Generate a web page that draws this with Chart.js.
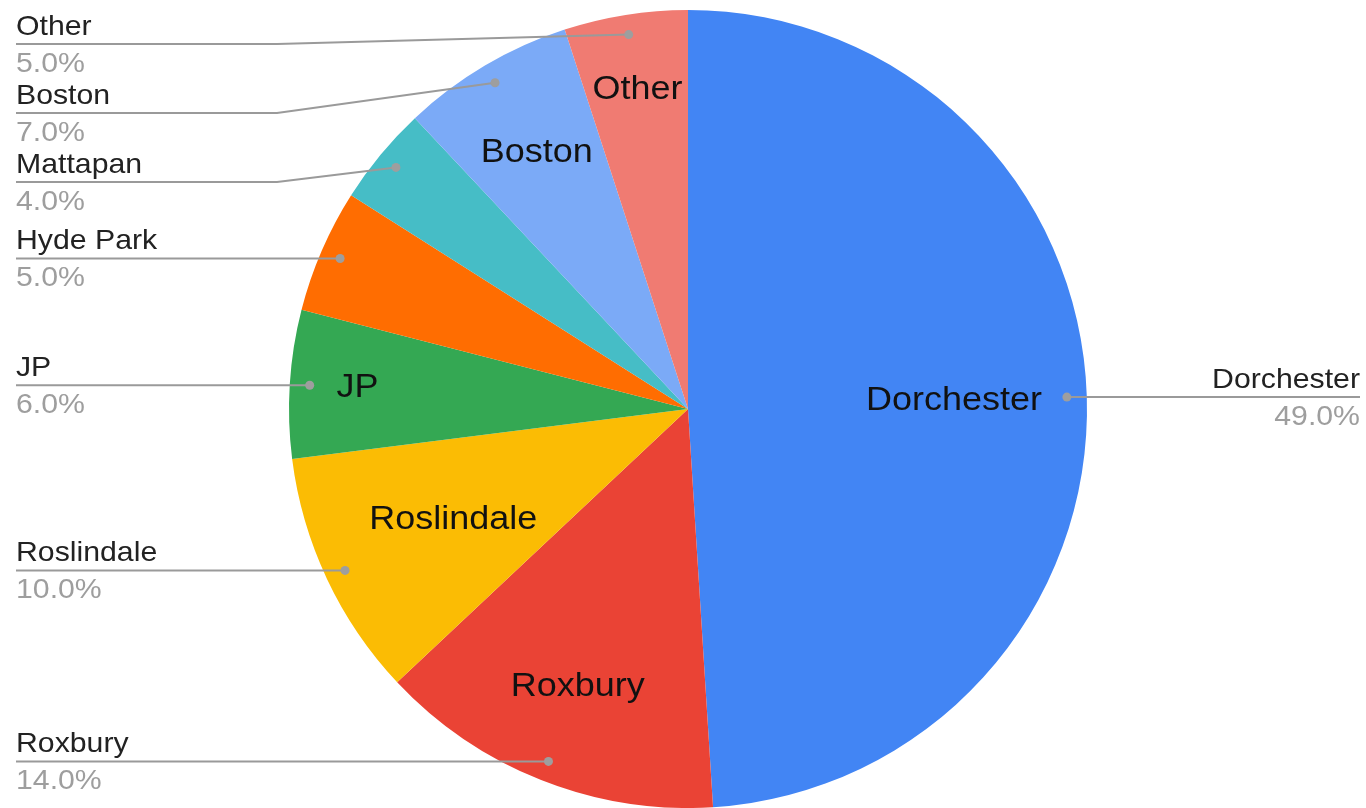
<!DOCTYPE html>
<html lang="en">
<head>
<meta charset="UTF-8" />
<title>Neighborhoods</title>
<script src="https://cdn.jsdelivr.net/npm/chart.js"></script>
<style>
  body { margin: 0; background: #fff; }
</style>
</head>
<body>
<canvas id="myChart" width="1366" height="808"></canvas>
<script>
  const labels = ["Dorchester", "Roxbury", "Roslindale", "JP", "Hyde Park", "Mattapan", "Boston", "Other"];
  const values = [49, 14, 10, 6, 5, 4, 7, 5];
  const colors = ["#4285f4", "#ea4335", "#fbbc04", "#34a853", "#ff6d01", "#46bdc6", "#7baaf7", "#f07b72"];
  // slices that also get their name written inside
  const insideLabels = ["Dorchester", "Roxbury", "Roslindale", "JP", "Boston", "Other"];

  const FONT = '"Liberation Sans", Arial, sans-serif';

  // the original text is a bit wider than Arial, so stretch it a little
  function wideText(ctx, text, x, y, sx) {
    ctx.save();
    ctx.translate(x, y);
    ctx.scale(sx, 1);
    ctx.fillText(text, 0, 0);
    ctx.restore();
  }

  // draws names inside slices and the leader-line labels at the sides
  const sliceLabels = {
    id: "sliceLabels",
    afterDatasetsDraw(chart, args, opts) {
      const ctx = chart.ctx;
      const arcs = chart.getDatasetMeta(0).data;
      const total = values.reduce((a, b) => a + b, 0);
      const items = [];

      arcs.forEach((arc, i) => {
        const mid = (arc.startAngle + arc.endAngle) / 2;
        const r = arc.outerRadius;
        // inside name
        if (insideLabels.includes(labels[i])) {
          const f = opts.insideRadius[i];
          ctx.save();
          ctx.font = "33px " + FONT;
          ctx.fillStyle = "#111";
          ctx.textAlign = "center";
          ctx.textBaseline = "middle";
          wideText(ctx, labels[i], arc.x + Math.cos(mid) * r * f, arc.y + Math.sin(mid) * r * f, 1.09);
          ctx.restore();
        }
        items.push({
          i: i,
          dx: arc.x + Math.cos(mid) * r * 0.95,
          dy: arc.y + Math.sin(mid) * r * 0.95,
          left: Math.cos(mid) < 0
        });
      });

      const left = items.filter(d => d.left).sort((a, b) => a.dy - b.dy);
      const right = items.filter(d => !d.left).sort((a, b) => a.dy - b.dy);
      let prev = -Infinity;
      left.forEach(d => {
        d.ly = Math.max(d.dy, prev + opts.gap, opts.minY);
        prev = d.ly;
      });
      prev = -Infinity;
      right.forEach(d => {
        d.ly = Math.max(d.dy, prev + opts.gap, opts.minY);
        prev = d.ly;
      });

      ctx.save();
      ctx.strokeStyle = "#9a9a9a";
      ctx.lineWidth = 2;
      items.forEach(d => {
        const name = labels[d.i];
        const pct = (values[d.i] / total * 100).toFixed(1) + "%";
        const x0 = d.left ? opts.leftMargin : chart.width - opts.rightMargin;
        ctx.beginPath();
        ctx.moveTo(x0, d.ly);
        if (Math.abs(d.ly - d.dy) > 1) {
          const ex = d.left ? opts.elbow : chart.width - opts.elbow;
          ctx.lineTo(ex, d.ly);
        }
        ctx.lineTo(d.dx, d.dy);
        ctx.stroke();

        ctx.fillStyle = "#9e9e9e";
        ctx.beginPath();
        ctx.arc(d.dx, d.dy, 4.5, 0, Math.PI * 2);
        ctx.fill();

        ctx.textAlign = d.left ? "left" : "right";
        ctx.textBaseline = "alphabetic";
        ctx.font = "28px " + FONT;
        ctx.fillStyle = "#222";
        wideText(ctx, name, x0, d.ly - 9, 1.08);
        ctx.fillStyle = "#9e9e9e";
        wideText(ctx, pct, x0, d.ly + 28, 1.08);
      });
      ctx.restore();
    }
  };

  const data = {
    labels: labels,
    datasets: [
      {
        data: values,
        backgroundColor: colors,
        borderWidth: 0,
      },
    ],
  };

  const config = {
    type: "pie",
    data: data,
    options: {
      responsive: false,
      animation: false,
      layout: { padding: { left: 10, top: 10, right: 0, bottom: 0 } },
      plugins: {
        legend: { display: false },
        tooltip: { enabled: false },
        sliceLabels: {
          insideRadius: [0.667, 0.75, 0.65, 0.83, 0.7, 0.7, 0.745, 0.81],
          gap: 69,
          minY: 44,
          leftMargin: 16,
          rightMargin: 6,
          elbow: 277,
        },
      },
    },
    plugins: [sliceLabels],
  };

  const myChart = new Chart(document.getElementById("myChart"), config);
</script>
</body>
</html>
